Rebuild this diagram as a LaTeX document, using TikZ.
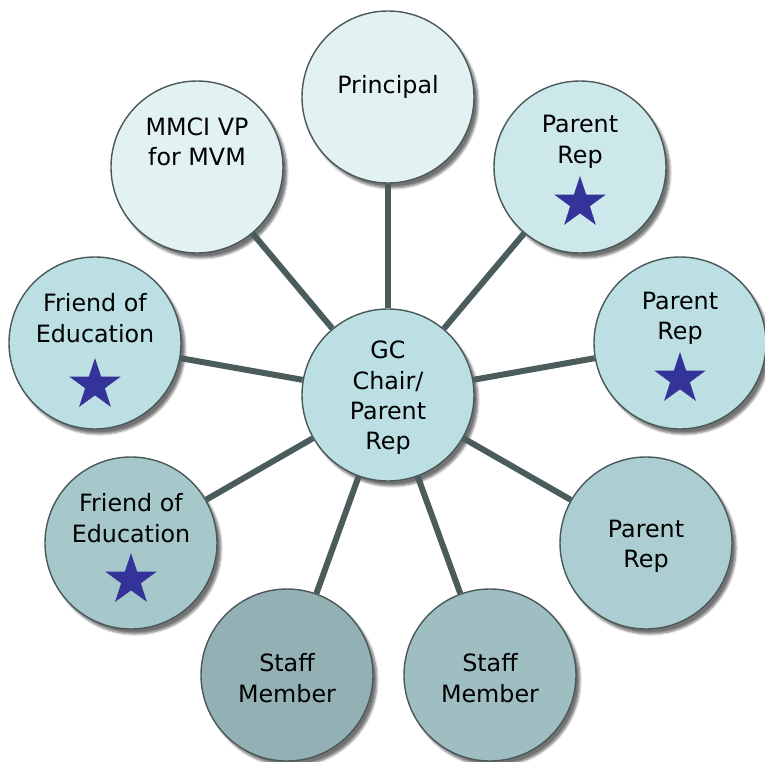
\documentclass[tikz,border=0pt]{standalone}
\usepackage{fontspec}
\setmainfont{DejaVu Sans}
\usetikzlibrary{shapes.geometric,shadows.blur}
\definecolor{edgegray}{HTML}{4A5859}
\definecolor{linkgray}{HTML}{4B5C5C}
\definecolor{starblue}{HTML}{333399}
\definecolor{tone1}{HTML}{E2F2F3}
\definecolor{tone2}{HTML}{CDE8EB}
\definecolor{tone3}{HTML}{BBDFE3}
\definecolor{tone4}{HTML}{ACCDD1}
\definecolor{tone5}{HTML}{A6C8CB}
\definecolor{tone6}{HTML}{9EBEC1}
\definecolor{tone7}{HTML}{93B1B4}
\begin{document}
\begin{tikzpicture}[x=1pt, y=-1pt,
    main/.style = {draw=edgegray, line width=1.4pt, circle, minimum size=172pt, inner sep=0pt,
      blur shadow={shadow xshift=4pt, shadow yshift=-5pt, shadow blur steps=6, shadow opacity=55}},
    txt/.style = {align=center, font=\fontsize{23.8}{30.4}\selectfont},
    bluestar/.style = {star, star points=5, star point ratio=2.6, fill=starblue, minimum size=54pt, inner sep=0pt},
    link/.style = {draw=linkgray, line width=6pt}]
    \useasboundingbox (0,0) rectangle (765,762);
    \node[main, fill=tone3] (gc) at (388,395) {};
    \node[main, fill=tone1] (prin) at (388,97) {};
    \node[main, fill=tone1] (vp) at (197,167) {};
    \node[main, fill=tone2] (pr1) at (580,167) {};
    \node[main, fill=tone3] (pr2) at (680,343) {};
    \node[main, fill=tone4] (pr3) at (646,543) {};
    \node[main, fill=tone6] (sm2) at (490,675) {};
    \node[main, fill=tone7] (sm1) at (287,675) {};
    \node[main, fill=tone5] (fe2) at (131,543) {};
    \node[main, fill=tone3] (fe1) at (95,343) {};
    \foreach \n in {prin,vp,pr1,pr2,pr3,sm2,sm1,fe2,fe1}
        \draw[link] (gc) -- (\n);
    \node[txt] (gc-t) at ([yshift=-3pt]gc.center) {GC\\Chair/\\Parent\\Rep};
    \node[txt] (prin-t) at ([yshift=10pt]prin.center) {Principal};
    \node[txt] (vp-t) at ([yshift=25pt]vp.center) {MMCI VP\\for MVM};
    \node[txt] (pr1-t) at ([yshift=25pt]pr1.center) {Parent\\Rep};
    \node[txt] (pr2-t) at ([yshift=25pt]pr2.center) {Parent\\Rep};
    \node[txt] (pr3-t) at ([yshift=-3pt]pr3.center) {Parent\\Rep};
    \node[txt] (sm2-t) at ([yshift=-3pt]sm2.center) {Staff\\Member};
    \node[txt] (sm1-t) at ([yshift=-3pt]sm1.center) {Staff\\Member};
    \node[txt] (fe2-t) at ([yshift=25pt]fe2.center) {Friend of\\Education};
    \node[txt] (fe1-t) at ([yshift=25pt]fe1.center) {Friend of\\Education};
    \node[bluestar] (pr1-s) at ([yshift=-36pt]pr1.center) {};
    \node[bluestar] (pr2-s) at ([yshift=-36pt]pr2.center) {};
    \node[bluestar] (fe2-s) at ([yshift=-37pt]fe2.center) {};
    \node[bluestar] (fe1-s) at ([yshift=-42pt]fe1.center) {};
\end{tikzpicture}
\end{document}
